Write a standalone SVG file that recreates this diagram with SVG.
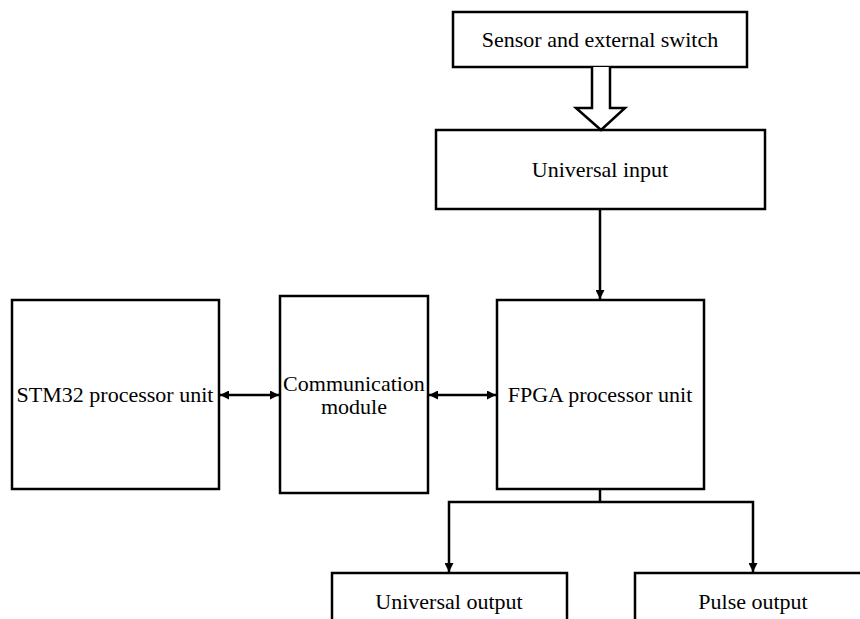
<svg xmlns="http://www.w3.org/2000/svg" width="860" height="619" viewBox="0 0 860 619">
<defs>
<style>
.box{fill:#fff;stroke:#000;stroke-width:2.5}
.ln{fill:none;stroke:#000;stroke-width:2.5}
.t{font-family:"Liberation Serif","Times New Roman",serif;font-size:22px;fill:#000;text-anchor:middle}
</style>
<marker id="ah" viewBox="0 0 10 10" refX="10" refY="5" markerWidth="10" markerHeight="9" markerUnits="userSpaceOnUse" orient="auto-start-reverse">
<path d="M0,0 L10,5 L0,10 Z" fill="#000"/>
</marker>
</defs>
<rect width="860" height="619" fill="#fff"/>
<g id="sensor"><rect class="box" x="453" y="12" width="294" height="55"/><text class="t" x="600" y="47">Sensor and external switch</text></g>
<g id="uinput"><rect class="box" x="436" y="130" width="329" height="79"/><text class="t" x="600" y="177">Universal input</text></g>
<g id="stm32"><rect class="box" x="12" y="300" width="207" height="189"/><text class="t" x="115" y="402">STM32 processor unit</text></g>
<g id="comm"><rect class="box" x="280" y="296" width="148" height="197"/><text class="t" x="354" y="391">Communication</text><text class="t" x="354" y="414">module</text></g>
<g id="fpga"><rect class="box" x="497" y="300" width="207" height="189"/><text class="t" x="600" y="402">FPGA processor unit</text></g>
<g id="uoutput"><rect class="box" x="332" y="573" width="235" height="60"/><text class="t" x="449" y="609">Universal output</text></g>
<g id="poutput"><rect class="box" x="635" y="573" width="240" height="60"/><text class="t" x="753" y="609">Pulse output</text></g>
<g id="connectors">
<path class="box" d="M592,67 L592,108 L576,108 L601,130 L625,108 L610,108 L610,67"/>
<line class="ln" x1="600" y1="209" x2="600" y2="299" marker-end="url(#ah)"/>
<line class="ln" x1="220" y1="395" x2="279" y2="395" marker-start="url(#ah)" marker-end="url(#ah)"/>
<line class="ln" x1="429" y1="395" x2="496" y2="395" marker-start="url(#ah)" marker-end="url(#ah)"/>
<polyline class="ln" points="600,489 600,502"/>
<polyline class="ln" points="449,572 449,502 753,502 753,572" marker-start="url(#ah)" marker-end="url(#ah)"/>
</g>
</svg>
